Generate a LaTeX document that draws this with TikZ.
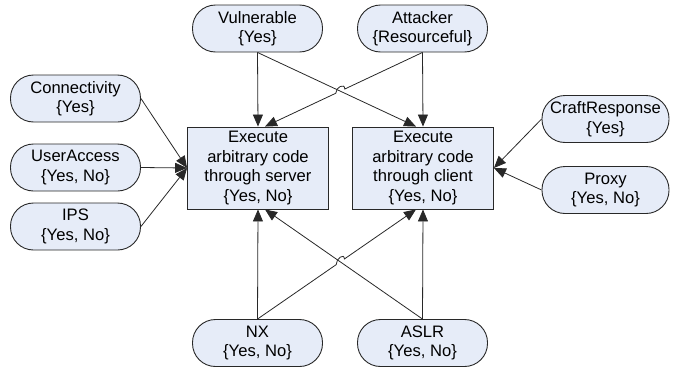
\documentclass[tikz,border=0pt]{standalone}
\usepackage{fontspec}
\setmainfont{Liberation Sans}
\usetikzlibrary{arrows.meta,calc,intersections}
\definecolor{nodefill}{RGB}{230,236,248}
\definecolor{edgeline}{RGB}{40,40,40}
\begin{document}
\begin{tikzpicture}[x=1pt,y=1pt,
  every node/.style={font=\fontsize{16.6}{19.5}\selectfont, align=center, inner sep=0pt},
  pill/.style={draw=edgeline, fill=nodefill, line width=0.9pt, rounded corners=23pt,
    minimum height=47pt, minimum width=130pt},
  goalbox/.style={draw=edgeline, fill=nodefill, line width=0.9pt,
    minimum height=82pt, minimum width=141pt},
  arr/.style={draw=edgeline, line width=0.8pt, -{Triangle[length=12pt,width=10pt]}},
  hop/.style={out=90, in=90, looseness=1.6},
]
\useasboundingbox (0,0) rectangle (677,-367);

% variable nodes
\node[pill] (vul)  at (257.5,-28.5) {Vulnerable\\\{Yes\}};
\node[pill] (att)  at (422.5,-28.5) {Attacker\\\{Resourceful\}};
\node[pill] (con)  at (75.5,-98.5)  {Connectivity\\\{Yes\}};
\node[pill] (ua)   at (75.5,-167.5) {UserAccess\\\{Yes, No\}};
\node[pill] (ips)  at (75.5,-226.5) {IPS\\\{Yes, No\}};
\node[pill, minimum width=127pt] (cr)  at (605.5,-119) {CraftResponse\\\{Yes\}};
\node[pill, minimum width=127pt] (pro) at (605.5,-190) {Proxy\\\{Yes, No\}};
\node[pill] (nx)   at (257.5,-343)  {NX\\\{Yes, No\}};
\node[pill] (aslr) at (422.5,-343)  {ASLR\\\{Yes, No\}};

% goal nodes
\node[goalbox] (srv) at (258,-168) {Execute\\arbitrary code\\through server\\\{Yes, No\}};
\node[goalbox] (cli) at (423,-168) {Execute\\arbitrary code\\through client\\\{Yes, No\}};

% crossing points of the diagonal edges
\path[name path=vc] (vul.south) -- ([xshift=-7pt]cli.north);
\path[name path=as] (att.south) -- ([xshift=7pt]srv.north);
\path[name intersections={of=vc and as, by=xtop}];
\path[name path=nc] (nx.north) -- ([xshift=-7pt]cli.south);
\path[name path=ls] (aslr.north) -- ([xshift=7pt]srv.south);
\path[name intersections={of=nc and ls, by=xbot}];

% top edges
\draw[arr] (vul.south) -- (srv.north);
\draw[arr] (vul.south) -- ([xshift=-7pt]cli.north);
\draw[arr] (att.south) -- (cli.north);
\draw[arr] (att.south) -- ($(xtop)!5pt!(att.south)$)
  to[hop] ($(xtop)!5pt!([xshift=7pt]srv.north)$) -- ([xshift=7pt]srv.north);

% side edges
\draw[arr] (con.east) -- (srv.west);
\draw[arr] (ua.east) -- (srv.west);
\draw[arr] (ips.east) -- (srv.west);
\draw[arr] (cr.west) -- (cli.east);
\draw[arr] (pro.west) -- (cli.east);

% bottom edges
\draw[arr] (nx.north) -- (srv.south);
\draw[arr] (aslr.north) -- (cli.south);
\draw[arr] (aslr.north) -- ([xshift=7pt]srv.south);
\draw[arr] (nx.north) -- ($(xbot)!5pt!(nx.north)$)
  to[hop] ($(xbot)!5pt!([xshift=-7pt]cli.south)$) -- ([xshift=-7pt]cli.south);
\end{tikzpicture}
\end{document}
